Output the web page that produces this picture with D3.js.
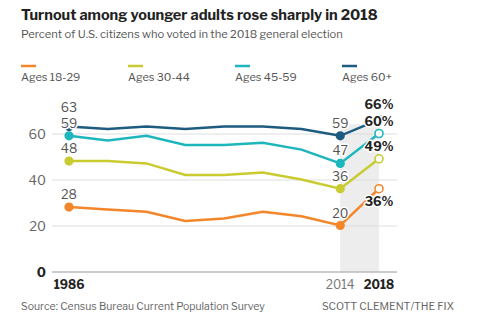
<!DOCTYPE html>
<html>
<head>
<meta charset="utf-8">
<script src="https://cdn.jsdelivr.net/npm/d3@7/dist/d3.min.js"></script>
<style>
  body { margin: 0; background: #fff; }
  svg { font-family: "Libre Franklin", Roboto, "Noto Sans", sans-serif; }
</style>
</head>
<body>
<script>
// midterm years and turnout (%) per age group
var years = [1986, 1990, 1994, 1998, 2002, 2006, 2010, 2014, 2018];
var ages18to29 = [28, 27, 26, 22, 23, 26, 24, 20, 36];
var ages30to44 = [48, 48, 47, 42, 42, 43, 40, 36, 49];
var ages45to59 = [59, 57, 59, 55, 55, 56, 53, 47, 60];
var ages60plus = [63, 62, 63, 62, 63, 63, 62, 59, 66];
var seriesNames = ["Ages 18-29", "Ages 30-44", "Ages 45-59", "Ages 60+"];
var yTicks = [0, 20, 40, 60];

var colors = ["#f4862a", "#c9cb2f", "#1db6bd", "#1d5b80"];
var seriesValues = [ages18to29, ages30to44, ages45to59, ages60plus];

var series = seriesNames.map(function (name, i) {
    return {
        name: name,
        color: colors[i],
        values: years.map(function (yr, j) { return {year: yr, v: seriesValues[i][j]}; })
    };
});

width = 485;
height = 328;

x = d3.scaleLinear().domain([1986, 2018]).range([69, 379]);
y = d3.scaleLinear().domain([0, 60]).range([271.5, 133.5]);

var svg = d3.select("body").append("svg")
    .attr("width", width)
    .attr("height", height);

// title block
svg.append("text")
    .attr("x", 21).attr("y", 20)
    .style("font-size", "14.5px").style("font-weight", "bold")
    .attr("fill", "#222")
    .text("Turnout among younger adults rose sharply in 2018");

svg.append("text")
    .attr("x", 21).attr("y", 38)
    .style("font-size", "11.2px")
    .attr("fill", "#555")
    .text("Percent of U.S. citizens who voted in the 2018 general election");

// legend
var legend = svg.selectAll(".legend")
    .data(series)
    .enter().append("g")
    .attr("class", "legend")
    .attr("transform", function (d, i) { return "translate(" + (21 + i * 107) + ",0)"; });

legend.append("line")
    .attr("x1", 0).attr("x2", 15)
    .attr("y1", 66).attr("y2", 66)
    .attr("stroke", function (d) { return d.color; })
    .attr("stroke-width", 2.5);

legend.append("text")
    .attr("x", 0).attr("y", 81)
    .style("font-size", "11px")
    .attr("fill", "#555")
    .text(function (d) { return d.name; });

// shaded 2014-2018 band
svg.append("rect")
    .attr("x", x(2014))
    .attr("width", x(2018) - x(2014))
    .attr("y", y(64))
    .attr("height", y(0) - y(64))
    .attr("fill", "#ededed");

// grid lines across the plot
var grid = svg.append("g")
    .attr("transform", "translate(52,0)")
    .call(d3.axisRight(y).tickValues(yTicks).tickSize(345).tickFormat(""));
grid.select(".domain").remove();
grid.selectAll(".tick line")
    .attr("stroke", function (d) { return d == 0 ? "#999" : "#ddd"; })
    .attr("stroke-width", function (d) { return d == 0 ? 1.2 : 1; });

svg.selectAll(".ylab")
    .data(yTicks)
    .enter().append("text")
    .attr("class", "ylab")
    .attr("x", 46)
    .attr("y", function (d) { return y(d) + 5; })
    .attr("text-anchor", "end")
    .style("font-size", "13px")
    .style("font-weight", function (d) { return d == 0 ? "bold" : "normal"; })
    .attr("fill", function (d) { return d == 0 ? "#222" : "#666"; })
    .text(function (d) { return d; });

// x labels
var xLabels = [1986, 2014, 2018];
svg.selectAll(".xlab")
    .data(xLabels)
    .enter().append("text")
    .attr("class", "xlab")
    .attr("x", function (d) { return x(d); })
    .attr("y", 289)
    .attr("text-anchor", "middle")
    .style("font-size", "12px")
    .style("font-weight", function (d) { return d == 2014 ? "normal" : "bold"; })
    .attr("fill", function (d) { return d == 2014 ? "#777" : "#222"; })
    .text(function (d) { return d; });

// lines
var line = d3.line()
    .x(function (d) { return x(d.year); })
    .y(function (d) { return y(d.v); });

var graph = svg.append("g");

graph.selectAll(".series")
    .data(series)
    .enter().append("path")
    .attr("class", "series")
    .attr("d", function (d) { return line(d.values); })
    .attr("fill", "none")
    .attr("stroke", function (d) { return d.color; })
    .attr("stroke-width", 2.5);

// dots: 1986 and 2014 filled, 2018 hollow
series.forEach(function (s) {
    var pts = s.values.filter(function (d) { return d.year == 1986 || d.year == 2014 || d.year == 2018; });
    graph.selectAll(null)
        .data(pts)
        .enter().append("circle")
        .attr("cx", function (d) { return x(d.year); })
        .attr("cy", function (d) { return y(d.v); })
        .attr("r", function (d) { return d.year == 2018 ? 4 : 3.8; })
        .attr("fill", function (d) { return d.year == 2018 ? "#fff" : s.color; })
        .attr("stroke", s.color)
        .attr("stroke-width", 1.6);
});

// value labels (60+ labels pushed up so they clear the 45-59 ones)
var labels = [];
series.forEach(function (s, i) {
    s.values.forEach(function (d) {
        if (d.year == 1986 || d.year == 2014) {
            labels.push({year: d.year, v: d.v, text: d.v, dy: (i == 3 && d.year == 1986) ? -14.5 : -8, bold: false});
        } else if (d.year == 2018) {
            labels.push({year: d.year, v: d.v, text: d.v + "%", dy: i == 0 ? 17 : (i == 3 ? -11 : -8), bold: true});
        }
    });
});

svg.selectAll(".vlab")
    .data(labels)
    .enter().append("text")
    .attr("class", "vlab")
    .attr("x", function (d) { return x(d.year); })
    .attr("y", function (d) { return y(d.v) + d.dy; })
    .attr("text-anchor", "middle")
    .style("font-size", "12.5px")
    .style("font-weight", function (d) { return d.bold ? "bold" : "normal"; })
    .attr("fill", function (d) { return d.bold ? "#222" : "#555"; })
    .attr("stroke", "#fff")
    .attr("stroke-width", 3)
    .attr("paint-order", "stroke")
    .text(function (d) { return d.text; });

// footer
svg.append("text")
    .attr("x", 21).attr("y", 310)
    .style("font-size", "10.5px")
    .attr("fill", "#666")
    .text("Source: Census Bureau Current Population Survey");

svg.append("text")
    .attr("x", 322).attr("y", 310)
    .style("font-size", "10.5px")
    .attr("fill", "#666")
    .text("SCOTT CLEMENT/THE FIX");
</script>
</body>
</html>
